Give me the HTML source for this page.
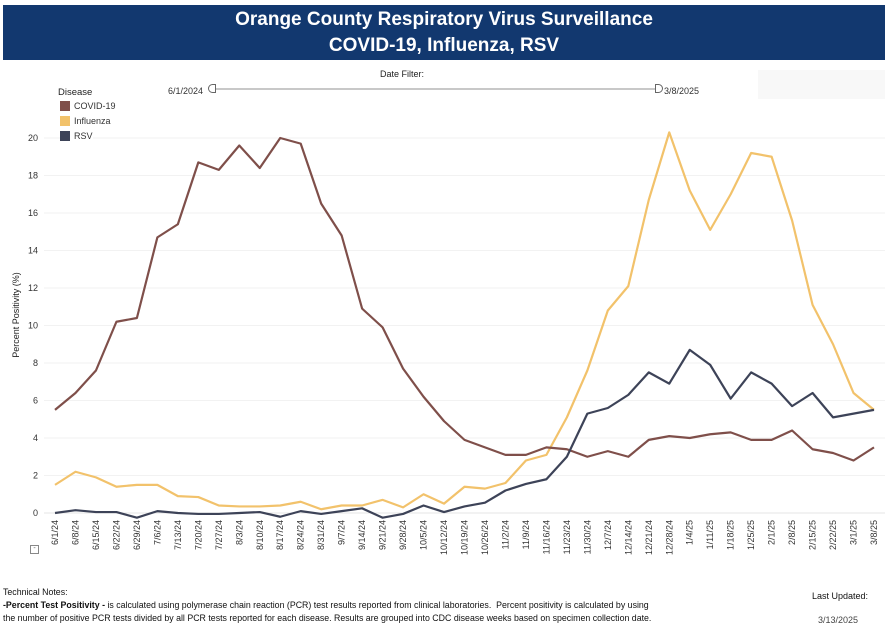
<!DOCTYPE html>
<html><head><meta charset="utf-8"><style>
body{margin:0;width:885px;height:631px;background:#fff;font-family:"Liberation Sans",sans-serif;overflow:hidden;position:relative}
#hdr{position:absolute;left:3px;top:5px;width:882px;height:55px;background:#12386f;color:#fff;text-align:center;font-weight:bold;font-size:19px;line-height:26px;padding-top:2px;box-sizing:border-box}
.t{position:absolute;font-size:9px;color:#333;z-index:2}
</style></head><body>
<svg id="chart" width="885" height="631" style="position:absolute;left:0;top:0"></svg>
<div id="hdr">Orange County Respiratory Virus Surveillance<br>COVID-19, Influenza, RSV</div>
<div class="t" style="left:380px;top:69px;color:#222">Date Filter:</div>
<div class="t" style="left:168px;top:86px">6/1/2024</div>
<div style="position:absolute;left:208px;top:84px;width:8px;height:9px;border:1px solid #666;border-top-left-radius:5px;border-bottom-left-radius:5px;box-sizing:border-box;background:#fff"></div>
<div style="position:absolute;left:216px;top:88px;width:440px;height:2px;background:#c8c8c8"></div>
<div style="position:absolute;left:655px;top:84px;width:8px;height:9px;border:1px solid #666;border-top-right-radius:5px;border-bottom-right-radius:5px;box-sizing:border-box;background:#fff"></div>
<div class="t" style="left:664px;top:86px">3/8/2025</div>
<div style="position:absolute;left:758px;top:70px;width:127px;height:29px;background:#f8f8f8"></div>
<div class="t" style="left:58px;top:87px;color:#222;font-size:9.5px">Disease</div>
<div class="t" style="left:60px;top:101px"><span style="display:inline-block;width:10px;height:10px;background:#7f4f4a;vertical-align:-2px;margin-right:4px"></span>COVID-19</div>
<div class="t" style="left:60px;top:116px"><span style="display:inline-block;width:10px;height:10px;background:#f2c26b;vertical-align:-2px;margin-right:4px"></span>Influenza</div>
<div class="t" style="left:60px;top:131px;background:#fff"><span style="display:inline-block;width:10px;height:10px;background:#3d4358;vertical-align:-2px;margin-right:4px"></span>RSV</div>
<div style="position:absolute;left:30px;top:545px;width:7px;height:7px;border:1px solid #888;font-size:7px;line-height:6px;text-align:center;color:#555">-</div>
<div class="t" style="left:3px;top:586px;font-size:8.8px;line-height:13px;color:#111">Technical Notes:<br><b>-Percent Test Positivity - </b>is calculated using polymerase chain reaction (PCR) test results reported from clinical laboratories.&nbsp; Percent positivity is calculated by using<br>the number of positive PCR tests divided by all PCR tests reported for each disease. Results are grouped into CDC disease weeks based on specimen collection date.</div>
<div class="t" style="left:812px;top:591px;font-size:9px;color:#111">Last Updated:</div>
<div class="t" style="left:818px;top:615px;font-size:9px;color:#444">3/13/2025</div>
<script>
const categories=["6/1/24","6/8/24","6/15/24","6/22/24","6/29/24","7/6/24","7/13/24","7/20/24","7/27/24","8/3/24","8/10/24","8/17/24","8/24/24","8/31/24","9/7/24","9/14/24","9/21/24","9/28/24","10/5/24","10/12/24","10/19/24","10/26/24","11/2/24","11/9/24","11/16/24","11/23/24","11/30/24","12/7/24","12/14/24","12/21/24","12/28/24","1/4/25","1/11/25","1/18/25","1/25/25","2/1/25","2/8/25","2/15/25","2/22/25","3/1/25","3/8/25"];
const covid=[5.5,6.4,7.6,10.2,10.4,14.7,15.4,18.7,18.3,19.6,18.4,20.0,19.7,16.5,14.8,10.9,9.9,7.7,6.2,4.9,3.9,3.5,3.1,3.1,3.5,3.4,3.0,3.3,3.0,3.9,4.1,4.0,4.2,4.3,3.9,3.9,4.4,3.4,3.2,2.8,3.5];
const influenza=[1.5,2.2,1.9,1.4,1.5,1.5,0.9,0.85,0.4,0.35,0.35,0.4,0.6,0.2,0.4,0.4,0.7,0.3,1.0,0.5,1.4,1.3,1.6,2.8,3.1,5.1,7.6,10.8,12.1,16.7,20.3,17.2,15.1,17.0,19.2,19.0,15.6,11.1,9.0,6.4,5.5];
const rsv=[0,0.15,0.05,0.05,-0.25,0.1,0,-0.05,-0.05,0,0.05,-0.2,0.1,-0.05,0.1,0.25,-0.25,-0.05,0.4,0.05,0.35,0.55,1.2,1.55,1.8,3.0,5.3,5.6,6.3,7.5,6.9,8.7,7.9,6.1,7.5,6.9,5.7,6.4,5.1,5.3,5.5];
const yTicks=[0,2,4,6,8,10,12,14,16,18,20];
const NS="http://www.w3.org/2000/svg";
const svg=document.getElementById('chart');
const x0=55,x1=874,y0=513,y20=138;
const xs=i=>x0+(x1-x0)*i/(categories.length-1);
const ys=v=>y0+(y20-y0)*v/20;
function mk(t,a){const e=document.createElementNS(NS,t);for(const k in a)e.setAttribute(k,a[k]);svg.appendChild(e);return e;}
yTicks.forEach(v=>{
  const g=mk('line',{x1:44,x2:885,y1:ys(v),y2:ys(v),stroke:v===0?'#e6e6e6':'#f2f2f2','stroke-width':1});
  
  
  const t=mk('text',{x:38,y:ys(v)+3,'text-anchor':'end','font-size':9,fill:'#333','font-family':'Liberation Sans'});
  t.textContent=v;
  
  
});
const yt=mk('text',{x:19,y:315,'text-anchor':'middle','font-size':9,fill:'#222',transform:'rotate(-90 19 315)','font-family':'Liberation Sans'});
yt.textContent='Percent Positivity (%)';


categories.forEach((c,i)=>{
  const t=mk('text',{x:xs(i)+3,y:520,'text-anchor':'end','font-size':9,fill:'#333',transform:`rotate(-90 ${xs(i)+3} 520)`,'font-family':'Liberation Sans'});
  t.textContent=c;
  
  
});
[[influenza,'#f2c26b','influenza-line'],[covid,'#7f4f4a','covid-line'],[rsv,'#3d4358','rsv-line']].forEach(([d,col,n])=>{
  const p=mk('polyline',{points:d.map((v,i)=>xs(i)+','+ys(v)).join(' '),fill:'none',stroke:col,'stroke-width':2.2,'stroke-linejoin':'round'});
  
  
});
</script>
</body></html>
